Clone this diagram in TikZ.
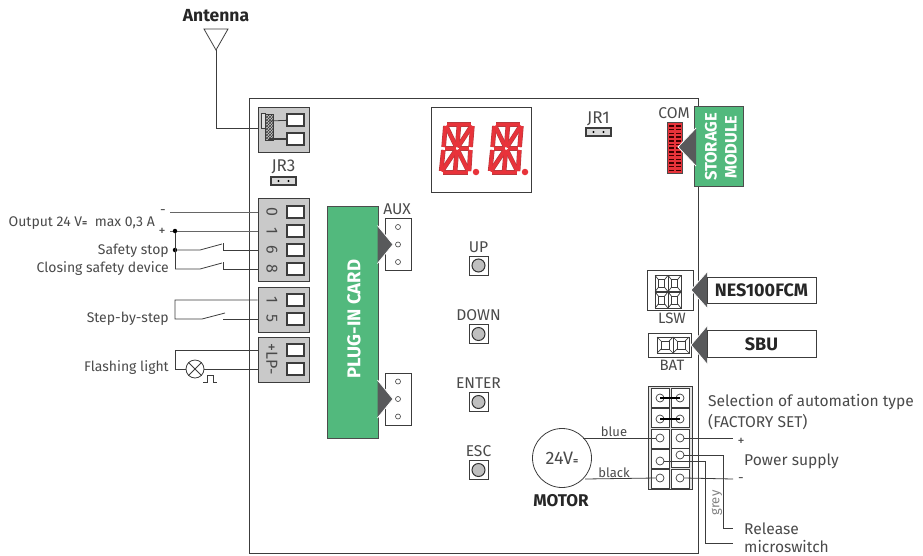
\documentclass[tikz,border=0pt]{standalone}
\usepackage{fontspec}
\setmainfont{Fira Sans}
\usetikzlibrary{positioning, patterns}

\definecolor{wirecol}{HTML}{3C3C3C}
\definecolor{labelcol}{HTML}{4A4A4A}
\definecolor{cardgreen}{HTML}{52B97D}
\definecolor{blockgray}{HTML}{C9C9C9}
\definecolor{tipgray}{HTML}{58595B}
\definecolor{segred}{HTML}{E8333A}
\definecolor{segrim}{HTML}{B9383C}

\newcommand{\dcsign}{{\fontsize{10}{10}\selectfont\bfseries =}}

\tikzset{
    wire/.style={draw=wirecol, line width=0.8pt},
    txt/.style={text=labelcol, font=\fontsize{14}{16}\selectfont, inner sep=0pt, yshift=-1pt},
    bigtxt/.style={text=labelcol, font=\fontsize{15.6}{18}\selectfont, inner sep=0pt, yshift=-1pt},
    boldtxt/.style={text=black!85, font=\fontsize{18}{20}\selectfont\bfseries, inner sep=0pt},
    block/.style={draw=wirecol, fill=blockgray, line width=0.8pt, minimum width=51pt, inner sep=0pt},
    socket/.style={draw=wirecol, fill=white, line width=1.1pt, minimum width=17pt, minimum height=12pt, inner sep=0pt},
    blockno/.style={text=labelcol, rotate=-90, font=\fontsize{16}{18}\selectfont, inner sep=0pt},
    jumper/.style={draw=wirecol, fill=blockgray!70, line width=1.8pt, minimum width=25pt, minimum height=8.5pt, inner sep=0pt},
    pinhole/.style={circle, fill=black, minimum size=2.2pt, inner sep=0pt},
    keybox/.style={draw=wirecol, fill=white, line width=0.7pt, minimum width=19pt, minimum height=19pt, inner sep=0pt},
    keydot/.style={circle, draw=black!80, fill=black!25, line width=1pt, minimum size=13pt, inner sep=0pt},
    card/.style={draw=black!70, fill=cardgreen, text=white, line width=0.8pt, inner sep=0pt},
    hole/.style={circle, draw=wirecol, fill=white, line width=0.6pt, minimum size=5pt, inner sep=0pt},
    tab/.style={draw=wirecol, fill=white, line width=0.8pt, inner sep=0pt},
    termcell/.style={draw=wirecol, fill=white, line width=0.7pt, minimum width=18pt, minimum height=19pt, inner sep=0pt},
    termhole/.style={circle, draw=wirecol, fill=white, line width=0.7pt, minimum size=8pt, inner sep=0pt},
    seg/.style={shorten <=1.5pt, shorten >=1.5pt},
    digit/.pic={
        \coordinate (tl) at (-11.5,-24);
        \coordinate (tm) at (2,-24);
        \coordinate (tr) at (15.5,-24);
        \coordinate (ml) at (-13.5,0);
        \coordinate (mm) at (0,0);
        \coordinate (mr) at (13.5,0);
        \coordinate (bl) at (-16,24);
        \coordinate (bm) at (-2,24);
        \coordinate (br) at (12,24);
        \foreach \col/\wd in {segrim/4.6pt, segred/3.4pt}
            \foreach \a/\b in {tl/tr, bl/br, tl/ml, ml/bl, tr/mr, mr/br, ml/mm, mm/mr,
                               tl/mm, tm/mm, tr/mm, bl/mm, bm/mm, br/mm}
                \draw[seg, draw=\col, line width=\wd] (\a) -- (\b);
    },
    cell/.pic={
        \draw[draw=wirecol, line width=0.7pt] (-8,-8) rectangle (8,8);
        \draw[draw=wirecol, line width=0.7pt] (-4,-4) rectangle (4,4);
        \draw[draw=wirecol, line width=0.7pt] (-8,-8) -- (-4,-4) (8,-8) -- (4,-4)
            (-8,8) -- (-4,4) (8,8) -- (4,4);
    },
}

\begin{document}
\begin{tikzpicture}[x=1pt, y=-1pt]
    \useasboundingbox (0,0) rectangle (923,555);

    % board
    \node[draw=wirecol, line width=0.9pt, minimum width=449pt, minimum height=455pt,
          inner sep=0pt] (board) at (473.5,325.5) {};

    % antenna
    \node[boldtxt, font=\fontsize{17.5}{19}\selectfont\bfseries] (antenna) at (216,16) {Antenna};
    \coordinate (antL) at (204,29);
    \coordinate (antR) at (228,29);
    \coordinate (antTip) at (216,50);
    \draw[wire] (antL) -- (antR) -- (antTip) -- cycle;

    % terminal blocks
    \node[block, minimum height=45pt] (tbA) at (283.5,129.5) {};
    \node[socket] (a1) at (295.5,120) {};
    \node[socket] (a2) at (295.5,139) {};
    \node[draw=wirecol, fill=blockgray!60, line width=0.6pt, minimum width=4pt, minimum height=15pt,
          inner sep=0pt] (coaxcap) at (263,121) {};
    \node[draw=wirecol, line width=0.6pt, pattern=crosshatch, pattern color=wirecol,
          minimum width=8pt, minimum height=26pt, inner sep=0pt] (coax) at (269,127) {};
    \coordinate (coaxTop) at (269,121);
    \coordinate (coaxBot) at (269,139);
    \draw[wire] (coaxTop) -- (a1);
    \draw[wire, line width=1.4pt] (coaxBot) -- (a2);
    \draw[wire] (antTip) |- (tbA.west |- coaxcap.south);

    \node[block, minimum height=83pt] (tbB) at (283.5,239.5) {};
    \node[block, minimum height=45pt] (tbC) at (283.5,309.5) {};
    \node[block, minimum height=45pt] (tbD) at (283.5,359.5) {};
    \foreach \name/\py/\val in {b0/212/0, b1/231/1, b6/250/6, b8/269/8, c1/300/1, c5/319/5} {
        \node[socket] (\name) at (295.5,\py) {};
        \node[blockno] (\name txt) at (272,\py) {\val};
    }
    \node[socket] (d1) at (295.5,350) {};
    \node[socket] (d2) at (295.5,369) {};
    \node[blockno] (lp) at (272,359.5) {+LP-};

    % output and safety inputs
    \coordinate (minusEnd) at (170,212);
    \coordinate (plusEnd) at (170,231);
    \node[txt, anchor=east] (output) at (155,222) {Output 24 V\dcsign\ \ max 0,3 A};
    \node[txt] (minus) at (163,211) {-};
    \node[txt] (plus) at (162,231) {+};
    \node[txt, anchor=east] (safety) at (169,249.5) {Safety stop};
    \node[txt, anchor=east] (closing) at (169,268) {Closing safety device};
    \draw[wire, draw=black!60] (minusEnd) -- (tbB.west |- b0);
    \draw[wire, draw=black!60] (plusEnd) -- (tbB.west |- b1);
    \node[circle, fill=black, minimum size=4.5pt, inner sep=0pt] (jn1) at (175,231) {};
    \node[circle, fill=black, minimum size=4.5pt, inner sep=0pt] (jn2) at (175,250) {};
    \coordinate (jn3) at (175,269);
    \coordinate (sw1a) at (200,250);
    \coordinate (sw1b) at (222,244);
    \coordinate (sw1c) at (223,243);
    \coordinate (sw1d) at (223,250);
    \coordinate (sw2a) at (200,269);
    \coordinate (sw2b) at (222,263);
    \coordinate (sw2c) at (223,262);
    \coordinate (sw2d) at (223,269);
    \draw[wire] (jn1) -- (jn3);
    \draw[wire] (jn2) -- (sw1a) -- (sw1b);
    \draw[wire] (sw1c) -- (sw1d) -- (tbB.west |- b6);
    \draw[wire] (jn3) -- (sw2a) -- (sw2b);
    \draw[wire] (sw2c) -- (sw2d) -- (tbB.west |- b8);

    % step by step
    \node[txt, anchor=east] (step) at (169,318) {Step-by-step};
    \coordinate (st1) at (175,300);
    \coordinate (st2) at (175,319);
    \coordinate (st3) at (202,319);
    \coordinate (st4) at (225,313);
    \coordinate (st5) at (223,319);
    \draw[wire] (tbC.west |- c1) -- (st1) -- (st2) -- (st3) -- (st4);
    \draw[wire] (st5) -- (tbC.west |- c5);

    % flashing light
    \node[txt, anchor=east] (flash) at (169,367) {Flashing light};
    \node[circle, draw=wirecol, line width=0.8pt, minimum size=18pt, inner sep=0pt] (lamp) at (195,369) {};
    \coordinate (fl1) at (175,350);
    \coordinate (fl2) at (175,369);
    \draw[wire] (tbD.west |- d1) -- (fl1) -- (fl2) -- (lamp);
    \draw[wire] (lamp) -- (tbD.west |- d2);
    \draw[wire] (lamp.north west) -- (lamp.south east);
    \draw[wire] (lamp.north east) -- (lamp.south west);
    \coordinate (pulse) at (203,382);
    \draw[wire] (pulse) -- ++(4,0) -- ++(0,-7) -- ++(6,0) -- ++(0,7) -- ++(4,0);

    % jumpers
    \foreach \name/\px/\py/\val/\ty in {jrc/283.5/181/JR3/166, jra/598.5/132/JR1/118} {
        \node[jumper] (\name) at (\px,\py) {};
        \node[pinhole, xshift=-5pt] (\name l) at (\name) {};
        \node[pinhole, xshift=5pt] (\name r) at (\name) {};
        \node[bigtxt, font=\fontsize{17}{19}\selectfont] (\name txt) at (\px,\ty) {\val};
    }

    % plug-in card
    \node[card, minimum width=51pt, minimum height=232pt] (plugin) at (352.5,322) {};
    \node[white, rotate=90, inner sep=0pt, font=\fontsize{18.5}{20}\selectfont\bfseries] (plugintxt) at (354,319) {PLUG-IN CARD};
    \node[bigtxt] (aux) at (397,208) {AUX};
    \foreach \name/\py in {auxa/244.5, auxb/399} {
        \node[tab, minimum width=26pt, minimum height=52pt] (\name) at (398,\py) {};
        \node[hole] (\name m) at (398,\py) {};
        \node[hole] (\name u) at (398,\py-17.5) {};
        \node[hole] (\name d) at (398,\py+17.5) {};
        \fill[tipgray] (377.5,\py-19) -- (393,\py) -- (377.5,\py+19) -- cycle;
        \draw[draw=white, line width=0.8pt] (377.5,\py-19) -- (393,\py) -- (377.5,\py+19);
    }

    % keys
    \foreach \name/\py/\val in {up/246/UP, down/314.5/DOWN, enter/382.5/ENTER, esc/450.5/ESC} {
        \node[bigtxt] (\name txt) at (478.5,\py) {\val};
        \node[keybox] (\name) at (478.5,\py+19.5) {};
        \node[keydot] (\name dot) at (\name) {};
    }

    % display
    \node[draw=wirecol, fill=white, line width=0.9pt, minimum width=100pt, minimum height=85pt,
          inner sep=0pt] (display) at (481,149.5) {};
    \pic at (457,148.5) {digit};
    \pic at (506,148.5) {digit};
    \node[circle, fill=segred, minimum size=6.5pt, inner sep=0pt] (dot1) at (476,172) {};
    \node[circle, fill=segred, minimum size=6.5pt, inner sep=0pt] (dot2) at (525,172) {};

    % storage module
    \node[bigtxt] (com) at (674,112) {COM};
    \node[draw=black!70, fill=segred, line width=0.9pt, minimum width=15pt, minimum height=51pt,
          inner sep=0pt] (comport) at (674.5,147.5) {};
    \foreach \py in {126,129.7,...,171} {
        \draw[black!75!red, line width=1.5pt] (669,\py) -- (674,\py);
        \draw[black!75!red, line width=1.5pt] (676,\py) -- (681,\py);
    }
    \node[card, minimum width=49pt, minimum height=80pt] (storage) at (718.5,146) {};
    \node[white, rotate=90, inner sep=0pt, align=center, font=\fontsize{16.5}{20}\selectfont\bfseries] (storagetxt) at (721,147) {STORAGE\\MODULE};
    \fill[tipgray] (696,128) -- (678,147) -- (696,166) -- cycle;
    \draw[draw=white, line width=0.8pt] (696,128) -- (678,147) -- (696,166);

    % LSW and BAT
    \node[draw=wirecol, fill=white, line width=0.8pt, minimum width=46pt, minimum height=40pt,
          inner sep=0pt] (lsw) at (670,290) {};
    \foreach \px/\py in {661.5/283.5, 674.5/283.5, 661.5/300, 674.5/300}
        \pic[xscale=0.8] at (\px,\py) {cell};
    \node[txt, font=\fontsize{15}{17}\selectfont] (lswtxt) at (672,317) {LSW};
    \node[draw=wirecol, fill=white, line width=0.8pt, minimum width=43pt, minimum height=24pt,
          inner sep=0pt] (bat) at (669.5,345) {};
    \foreach \px in {665,681}
        \pic at (\px,345) {cell};
    \node[txt, font=\fontsize{15}{17}\selectfont] (battxt) at (672,364) {BAT};

    \node[boldtxt, draw=wirecol, fill=white, line width=0.7pt, minimum width=109pt, minimum height=26pt] (nes) at (761.5,290) {NES100FCM};
    \node[boldtxt, draw=wirecol, fill=white, line width=0.7pt, minimum width=109pt, minimum height=27pt] (sbu) at (761.5,344) {SBU};
    \fill[tipgray] (707,272) -- (691,290) -- (707,308) -- cycle;
    \draw[draw=white, line width=0.8pt] (707,272) -- (691,290) -- (707,308);
    \fill[tipgray] (707,326) -- (691,345) -- (707,364) -- cycle;
    \draw[draw=white, line width=0.8pt] (707,326) -- (691,345) -- (707,364);

    % motor terminal
    \node[draw=wirecol, fill=blockgray!50, line width=0.8pt, minimum width=44pt, minimum height=103pt,
          inner sep=0pt] (termblock) at (670,438) {};
    \foreach \name/\px/\py/\hy in {la/660/397.5/398, ra/680/397.5/398, lb/660/418/419, rb/680/418/419,
                                   lc/660/438.5/438, rc/680/438.5/438, ld/660/458.5/461, rd/680/457.5/455,
                                   le/660/478.5/478, re/680/478.5/478} {
        \node[termcell] (\name) at (\px,\py) {};
        \node[termhole] (\name h) at (\px,\hy) {};
    }
    \draw[black, line width=2pt] (lah.center) -- (rah.center);
    \draw[black, line width=2pt] (lbh.center) -- (rbh.center);

    % motor
    \node[bigtxt, circle, yshift=1pt, draw=wirecol, line width=0.8pt, minimum size=59pt, font=\fontsize{18}{20}\selectfont] (motor) at (562,458) {24V\dcsign};
    \node[boldtxt, font=\fontsize{17}{19}\selectfont\bfseries] (motortxt) at (561,501) {MOTOR};
    \node[txt, font=\fontsize{13}{15}\selectfont] (blue) at (614,431) {blue};
    \node[txt, font=\fontsize{13}{15}\selectfont] (blk) at (614,472) {black};
    \coordinate (mot1) at (583,438);
    \coordinate (mot2) at (585,479);
    \draw[wire] (mot1) -- (lch.west);
    \draw[wire] (mot2) -- (leh.west);

    % power supply and microswitch
    \coordinate (powP) at (733,438);
    \coordinate (powM) at (733,479);
    \coordinate (rel) at (733,528);
    \coordinate (mic) at (733,543);
    \coordinate (relB) at (723,528);
    \coordinate (micB) at (705,543);
    \draw[wire] (rch.east) -- (powP);
    \draw[wire] (reh.east) -- (powM);
    \draw[wire] (rdh.east) -| (relB) -- (rel);
    \draw[wire] (ldh.east) -| (micB) -- (mic);
    \node[txt] (plusP) at (741,441) {+};
    \node[txt] (minusP) at (741,479) {-};
    \node[bigtxt, anchor=west] (selA) at (708,401) {Selection of automation type};
    \node[bigtxt, anchor=west] (selB) at (708,421) {(FACTORY SET)};
    \node[bigtxt, anchor=west] (power) at (744,460) {Power supply};
    \node[bigtxt, anchor=west] (release) at (744,528) {Release};
    \node[bigtxt, anchor=west] (micro) at (744,545) {microswitch};
    \node[txt, font=\fontsize{13}{15}\selectfont, text=black!50, rotate=90] (grey) at (717,502) {grey};
\end{tikzpicture}
\end{document}
